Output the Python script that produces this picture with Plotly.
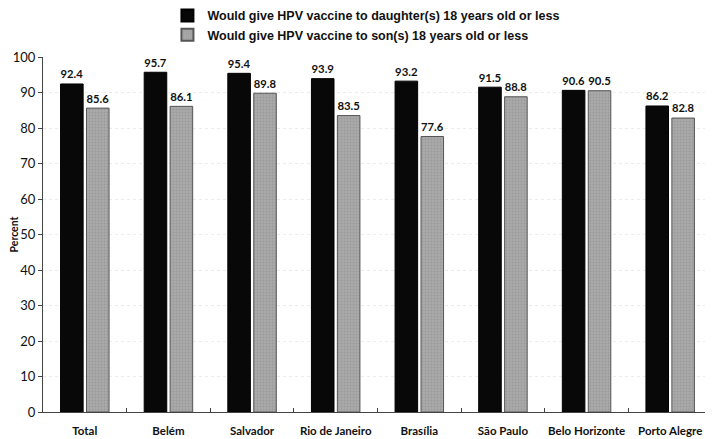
import plotly.graph_objects as go

cities = ['Total', 'Belém', 'Salvador', 'Rio de Janeiro', 'Brasília',
          'São Paulo', 'Belo Horizonte', 'Porto Alegre']
daughters = [92.4, 95.7, 95.4, 93.9, 93.2, 91.5, 90.6, 86.2]
sons = [85.6, 86.1, 89.8, 83.5, 77.6, 88.8, 90.5, 82.8]

value_font = dict(family='Lato, sans-serif', size=13, color='#111111', weight='bold')

fig = go.Figure()

fig.add_trace(go.Bar(
    x=cities, y=daughters,
    name='Would give HPV vaccine to daughter(s) 18 years old or less',
    marker=dict(color='#080808', line=dict(color='#000000', width=1)),
    text=[f'{v:.1f}' for v in daughters],
    textposition='outside',
    textfont=value_font,
    cliponaxis=False,
))

fig.add_trace(go.Bar(
    x=cities, y=sons,
    name='Would give HPV vaccine to son(s) 18 years old or less',
    marker=dict(color='#a9a9a9', line=dict(color='#555555', width=1),
                pattern=dict(shape='.', fgcolor='#8a8a8a', size=3, solidity=0.3)),
    text=[f'{v:.1f}' for v in sons],
    textposition='outside',
    textfont=value_font,
    cliponaxis=False,
))

# the page body adds an 8px offset, so the figure is sized to fit inside the window
fig.update_layout(
    width=705, height=431,
    plot_bgcolor='#ffffff',
    paper_bgcolor='#ffffff',
    barmode='group',
    bargap=0.38,
    bargroupgap=0.13,
    margin=dict(l=35, r=1, t=49, b=27, autoexpand=False),
    showlegend=True,
    legend=dict(
        x=0.186, xanchor='left',
        y=1.158, yanchor='top',
        font=dict(family='Liberation Sans, Arial, sans-serif', size=12.5,
                  color='#111111', weight='bold'),
        bgcolor='rgba(0,0,0,0)',
        itemwidth=30,
        tracegroupgap=0,
        itemsizing='constant',
    ),
    xaxis=dict(
        showline=True, linecolor='#444444', linewidth=1,
        ticks='inside', ticklen=4, tickcolor='#444444',
        tickson='boundaries',
        tickangle=0,
        tickfont=dict(family='Lato, sans-serif', size=11.5, color='#111111', weight='bold'),
        ticklabelstandoff=8,
    ),
    yaxis=dict(
        range=[0, 100], dtick=10,
        showline=True, linecolor='#444444', linewidth=1,
        ticks='outside', ticklen=4, tickcolor='#444444',
        showgrid=True, gridcolor='#ececec', griddash='dot',
        zeroline=False,
        tickfont=dict(family='Lato, sans-serif', size=13, color='#111111'),
        title=dict(text='Percent', standoff=10,
                   font=dict(family='Lato, sans-serif', size=10.5, color='#111111', weight='bold')),
    ),
)

fig.write_html('out.html')
